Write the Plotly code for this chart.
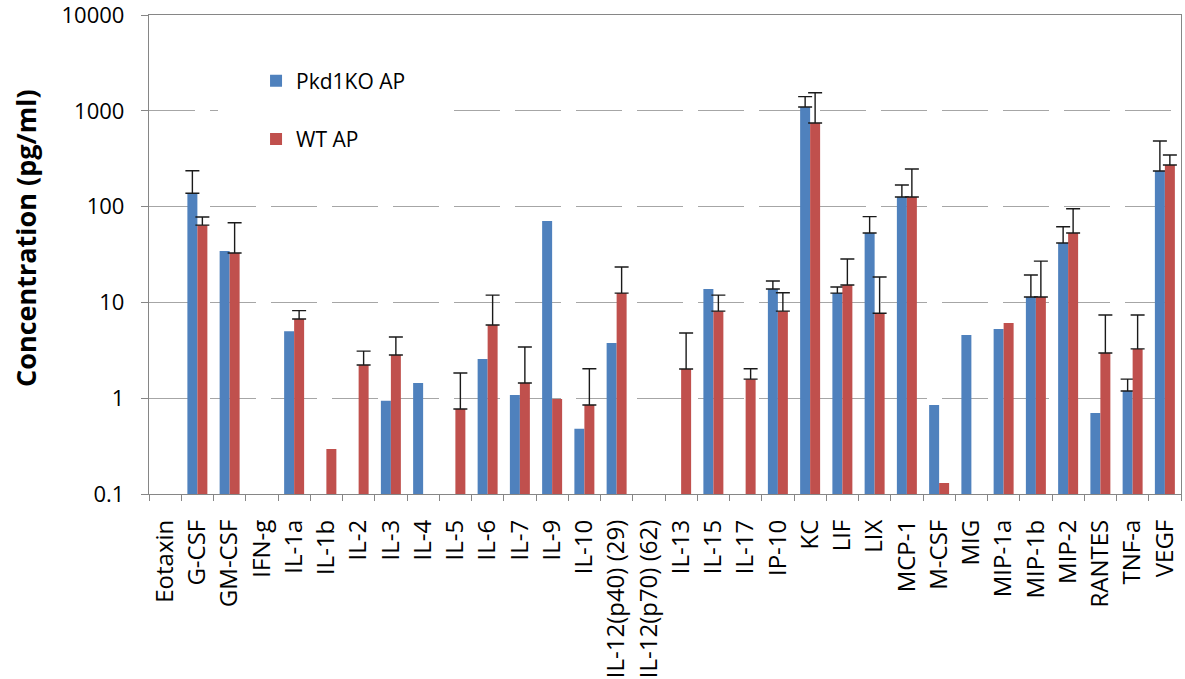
import numpy as np
import plotly.graph_objects as go

categories = ["Eotaxin", "G-CSF", "GM-CSF", "IFN-g", "IL-1a", "IL-1b", "IL-2", "IL-3",
              "IL-4", "IL-5", "IL-6", "IL-7", "IL-9", "IL-10", "IL-12(p40) (29)",
              "IL-12(p70) (62)", "IL-13", "IL-15", "IL-17", "IP-10", "KC", "LIF", "LIX",
              "MCP-1", "M-CSF", "MIG", "MIP-1a", "MIP-1b", "MIP-2", "RANTES", "TNF-a", "VEGF"]

nan = np.nan
pkd1ko_ap = [nan, 138, 34.4, nan, 5.0, nan, nan, 0.94, 1.44, nan, 2.56, 1.08, 70.8, 0.48,
             3.77, nan, nan, 13.8, nan, 13.8, 1096, 12.5, 53, 126, 0.85, 4.57, 5.28, 11.4,
             41.7, 0.70, 1.19, 235]
wt_ap = [nan, 64, 32.8, nan, 6.7, 0.295, 2.22, 2.82, nan, 0.77, 5.8, 1.44, 0.98, 0.85,
         12.5, nan, 2.02, 8.1, 1.58, 8.1, 746, 15.2, 7.7, 126, 0.13, nan, 6.1, 11.4,
         53, 2.96, 3.27, 272]

pkd1ko_err = [nan, 99, nan, nan, nan, nan, nan, nan, nan, nan, nan, nan, nan, nan,
              nan, nan, nan, nan, nan, 2.9, 309, 2.0, 25.5, 42, nan, nan, nan, 7.9,
              20, nan, 0.39, 249]
wt_err = [nan, 14, 35, nan, 1.5, nan, 0.88, 1.53, nan, 1.06, 6.1, 1.98, nan, 1.18,
          10.9, nan, 2.78, 3.8, 0.45, 4.5, 799, 13.2, 10.7, 121, nan, nan, nan, 15.6,
          42, 4.44, 4.13, 74]

y_tickvals = [0.1, 1, 10, 100, 1000, 10000]
y_ticktext = ["0.1", "1", "10", "100", "1000", "10000"]

FONT = "Open Sans"
BLUE = "#4F81BD"
RED = "#C0504D"
AXIS = "#868686"


def minus_of(err):
    e = np.array(err, dtype=float)
    return np.where(np.isnan(e), np.nan, 0.0)


fig = go.Figure()
for name, vals, err, color in [("Pkd1KO AP", pkd1ko_ap, pkd1ko_err, BLUE),
                               ("WT AP", wt_ap, wt_err, RED)]:
    fig.add_trace(go.Bar(
        x=categories, y=np.array(vals, dtype=float), name=name,
        marker=dict(color=color, line=dict(width=0)),
        legendgroup=name,
        error_y=dict(type="data", symmetric=False,
                     array=np.array(err, dtype=float), arrayminus=minus_of(err),
                     color="#1a1a1a", thickness=1.4, width=7),
    ))

fig.update_layout(
    width=1185, height=679,
    margin=dict(l=149, r=4, t=15, b=185, autoexpand=False),
    paper_bgcolor="white", plot_bgcolor="white",
    barmode="group", bargap=0.38, bargroupgap=0.0,
    font=dict(family=FONT, color="black"),
    showlegend=True,
    legend=dict(x=0.0669, y=0.984, xanchor="left", yanchor="top",
                bgcolor="white", bordercolor="white", borderwidth=38,
                font=dict(family=FONT, size=21, color="black"),
                traceorder="grouped", tracegroupgap=28),
    xaxis=dict(
        type="category", showline=True, linecolor=AXIS, linewidth=1.3, mirror=True,
        ticks="outside", tickson="boundaries", ticklen=6, tickcolor=AXIS, tickwidth=1,
        tickangle=-90, tickfont=dict(family=FONT, size=24, color="black"),
        ticklabelstandoff=15, automargin=False,
        showgrid=False, range=[-0.5, len(categories) - 0.5],
    ),
    yaxis=dict(
        type="log", range=[-1, 4], showline=True, linecolor=AXIS, linewidth=1.3, mirror=True,
        ticks="outside", ticklen=7, tickcolor=AXIS, tickwidth=1,
        tickvals=y_tickvals, ticktext=y_ticktext, ticklabeloverflow="allow",
        tickfont=dict(family=FONT, size=22, color="black"), ticklabelstandoff=12,
        automargin=False,
        showgrid=True, gridcolor="#A6A6A6", gridwidth=1.3, griddash="46px,15px",
        zeroline=False,
    ),
    annotations=[dict(
        text="<b>Concentration (pg/ml)</b>", textangle=-90, showarrow=False,
        xref="paper", yref="paper", x=-0.1202, y=0.5344, xanchor="center", yanchor="middle",
        font=dict(family=FONT, size=27, color="black"),
    )],
)

fig.write_html("out.html")
